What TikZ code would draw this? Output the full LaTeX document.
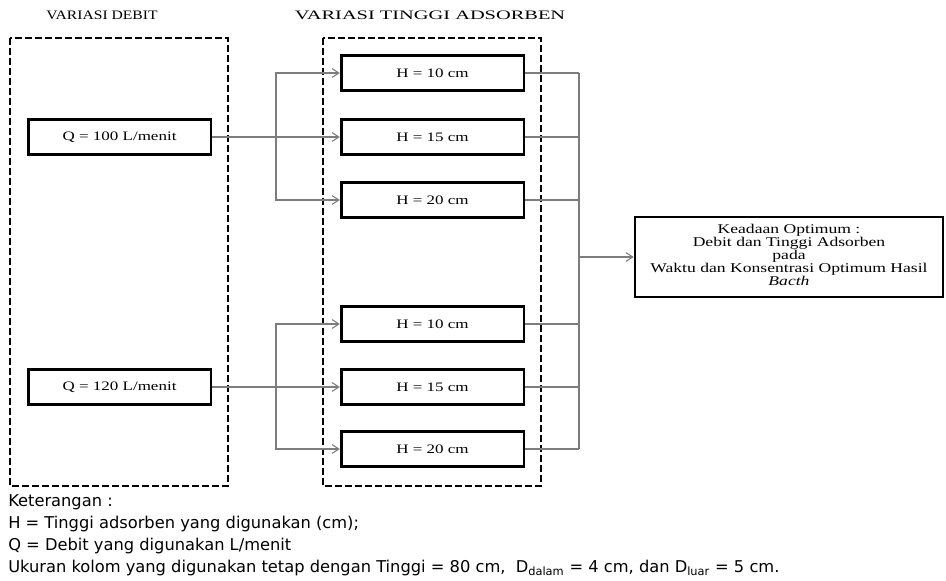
\documentclass[tikz,border=0pt]{standalone}
\usepackage{graphicx}
\usepackage{fontspec}
\setmainfont{Liberation Serif}
\newfontfamily\ketfont{DejaVu Sans}
\usetikzlibrary{arrows.meta,positioning}
\definecolor{LineGray}{RGB}{125,125,125}
\newcommand{\sqz}[2][1]{\scalebox{#1}[0.76]{#2}}

\begin{document}
\begin{tikzpicture}[x=0.75pt,y=-0.75pt,>={Straight Barb[length=5pt,width=6.5pt]},
  box/.style={draw,line width=2pt,minimum width=137pt,minimum height=26pt,inner sep=0pt,font=\fontsize{12.75}{12}\selectfont},
  frame/.style={line width=1.6pt,dash pattern=on 5pt off 2.5pt},
  con/.style={LineGray,line width=0.8pt},
  ttl/.style={font=\fontsize{12.75}{12}\selectfont},
  legendtxt/.style={font=\ketfont\fontsize{12.2}{16.5}\selectfont,align=left,inner sep=0pt}]
\useasboundingbox (0,0) rectangle (946,581);
\fill[white] (0,0) rectangle (946,581);
% titles and dashed frames
\node[ttl] (tdebit) at (102,15) {\sqz[0.92]{VARIASI DEBIT}};
\node[ttl] (ttinggi) at (430,15) {\sqz[1.2]{VARIASI TINGGI ADSORBEN}};
\draw[frame] (10,38) rectangle (228,486);
\draw[frame] (323,38) rectangle (541,486);
% debit
\node[box] (q1) at (119.5,137) {\sqz{Q = 100 L/menit}};
\node[box] (q2) at (119.5,387) {\sqz{Q = 120 L/menit}};
% tinggi adsorben
\foreach \nm/\yy/\hh in {h10a/73/10,h15a/137/15,h20a/200/20,h10b/324/10,h15b/387/15,h20b/449/20}
  \node[box] (\nm) at (432.5,\yy) {\sqz{H = \hh\ cm}};
\node[box,minimum width=231pt,minimum height=60pt] (opt) at (789,257)
  {\sqz{\fontsize{13.2}{12.5}\selectfont\begin{tabular}{@{}c@{}}Keadaan Optimum :\\Debit dan Tinggi Adsorben\\pada\\Waktu dan Konsentrasi Optimum Hasil\\\textit{Bacth}\end{tabular}}};
\coordinate (br1) at (276,137);
\coordinate (br2) at (276,387);
\coordinate (mg) at (579,257);
% connectors
\draw[con,->] (q1) -- (h15a);
\draw[con,->] (br1) |- (h10a);
\draw[con,->] (br1) |- (h20a);
\draw[con,->] (q2) -- (h15b);
\draw[con,->] (br2) |- (h10b);
\draw[con,->] (br2) |- (h20b);
\foreach \nm in {h10a,h15a,h20a,h10b,h15b,h20b}
  \draw[con] (\nm.east) -- (\nm.east -| mg);
\draw[con] (h10a.east -| mg) -- (h20b.east -| mg);
\draw[con,->] (mg) -- (opt);
% keterangan
\node[legendtxt,anchor=west] (ket) at (8,535) {Keterangan :\\H = Tinggi adsorben yang digunakan (cm);\\Q = Debit yang digunakan L/menit\\Ukuran kolom yang digunakan tetap dengan Tinggi = 80 cm,\ \ D\textsubscript{dalam} = 4 cm, dan D\textsubscript{luar} = 5 cm.};
\end{tikzpicture}
\end{document}
